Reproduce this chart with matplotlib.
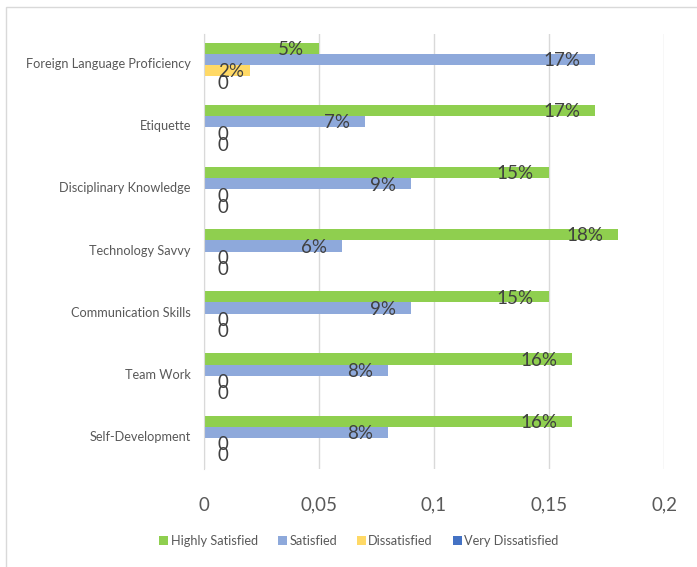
import matplotlib.pyplot as plt
import numpy as np
from matplotlib.patches import Rectangle

categories = ['Self-Development', 'Team Work', 'Communication Skills', 'Technology Savvy',
              'Disciplinary Knowledge', 'Etiquette', 'Foreign Language Proficiency']
series = ['Highly Satisfied', 'Satisfied', 'Dissatisfied', 'Very Dissatisfied']
highly_satisfied = [0.16, 0.16, 0.15, 0.18, 0.15, 0.17, 0.05]
satisfied = [0.08, 0.08, 0.09, 0.06, 0.09, 0.07, 0.17]
dissatisfied = [0, 0, 0, 0, 0, 0, 0.02]
very_dissatisfied = [0, 0, 0, 0, 0, 0, 0]
colors = ['#8FCF4F', '#8EA9DB', '#FFD966', '#4472C4']
xticks = [0, 0.05, 0.1, 0.15, 0.2]

plt.rcParams['font.family'] = ['Lato', 'DejaVu Sans']

fig = plt.figure(figsize=(6.97, 5.67), dpi=100)
ax = fig.add_axes([204 / 697, 1 - 469 / 567, 460 / 697, 435 / 567])

y = np.arange(len(categories))
h = 0.18
offsets = [1.5 * h, 0.5 * h, -0.5 * h, -1.5 * h]
data = [highly_satisfied, satisfied, dissatisfied, very_dissatisfied]

for vals, off, col, name in zip(data, offsets, colors, series):
    ax.barh(y + off, vals, height=h, color=col, label=name, zorder=2)
    # data labels: inside end, zeros / small ones pushed off the axis
    for yi, v in zip(y, vals):
        txt = '0' if v == 0 else '%d%%' % round(v * 100)
        if v < 0.03:
            ax.text(0.006, yi + off - 0.02, txt, ha='left', va='center',
                    fontsize=13.5, color='#404040', zorder=3)
        else:
            ax.text(v - 0.0065, yi + off - 0.02, txt, ha='right', va='center',
                    fontsize=13.5, color='#404040', zorder=3)

ax.set_xlim(0, 0.2)
ax.set_ylim(-0.5, len(categories) - 0.5)
ax.set_xticks(xticks)
ax.set_xticklabels(['0', '0,05', '0,1', '0,15', '0,2'], fontsize=13.5, color='#595959')
ax.set_yticks(y + 0.03)
ax.set_yticklabels(categories, fontsize=9.2, color='#595959')
ax.tick_params(length=0)
ax.tick_params(axis='x', pad=20)
ax.tick_params(axis='y', pad=9.5)
ax.grid(axis='x', color='#D9D9D9', linewidth=1, zorder=0)
for s in ['top', 'right', 'bottom']:
    ax.spines[s].set_visible(False)
ax.spines['left'].set_color('#D9D9D9')

fig.legend(loc='center', bbox_to_anchor=(359 / 697, 1 - 541 / 567), ncol=4, frameon=False,
           fontsize=9.2, handlelength=0.7, handleheight=0.7, handletextpad=0.2,
           columnspacing=1.55, labelcolor='#595959')

fig.patches.append(Rectangle((6 / 697, -0.1), 1.2, 1 - 7 / 567 + 0.1, transform=fig.transFigure,
                             fill=False, edgecolor='#D9D9D9', linewidth=1))

fig.savefig('out.png', dpi=100)
